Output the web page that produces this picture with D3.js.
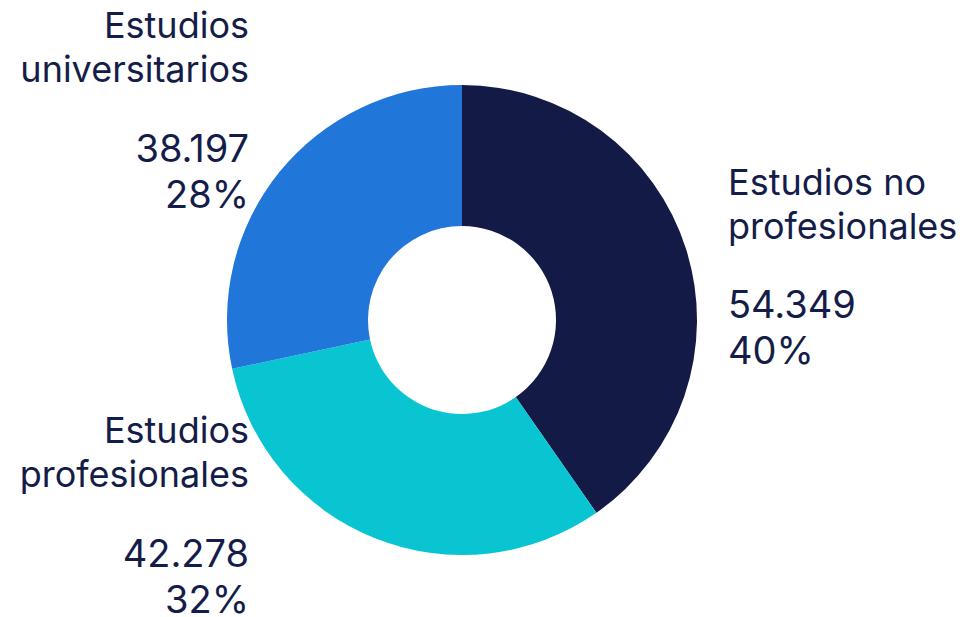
<!DOCTYPE html>
<html>
<head>
<meta charset="utf-8">
<script src="https://cdn.jsdelivr.net/npm/d3@7"></script>
<style>
  body { margin: 0; background: #fff; }
  .lbl { font-family: Inter, "Noto Sans", sans-serif; fill: #141d48; }
</style>
</head>
<body>
<div id="chart"></div>
<script>
const categories = ['Estudios no profesionales', 'Estudios profesionales', 'Estudios universitarios'];
const values = [54349, 42278, 38197];
const valueLabels = ['54.349', '42.278', '38.197'];
const pctLabels = ['40%', '32%', '28%'];
const nameLines = [['Estudios no', 'profesionales'], ['Estudios', 'profesionales'], ['Estudios', 'universitarios']];
const colors = ['#121a45', '#08c5d1', '#2176d9'];

const width = 964, height = 617;
const cx = 462, cy = 320;
const outerR = 235, innerR = 94;

// where each label block sits: x, anchor, baseline of first name line, baseline of first number line
const labelPos = [
    { x: 728, anchor: 'start', nameY: 195, numY: 318 },
    { x: 249, anchor: 'end', nameY: 443, numY: 567 },
    { x: 249, anchor: 'end', nameY: 38, numY: 162 }
];

const svg = d3.select('#chart').append('svg')
    .attr('width', width)
    .attr('height', height);

const pie = d3.pie().sort(null).value(d => d);
const arc = d3.arc().innerRadius(innerR).outerRadius(outerR);

const g = svg.append('g').attr('transform', `translate(${cx}, ${cy})`);
g.selectAll('path')
    .data(pie(values))
    .enter()
    .append('path')
    .attr('d', arc)
    .attr('fill', (d, i) => colors[i]);

categories.forEach((c, i) => {
    const p = labelPos[i];
    nameLines[i].forEach((line, j) => {
        svg.append('text').attr('class', 'lbl')
            .attr('x', p.x).attr('y', p.nameY + j * 44)
            .attr('text-anchor', p.anchor)
            .attr('font-size', 36)
            .text(line);
    });
    [valueLabels[i], pctLabels[i]].forEach((t, j) => {
        svg.append('text').attr('class', 'lbl')
            .attr('x', p.x).attr('y', p.numY + j * 46)
            .attr('text-anchor', p.anchor)
            .attr('font-size', 38)
            .text(t);
    });
});
</script>
</body>
</html>
